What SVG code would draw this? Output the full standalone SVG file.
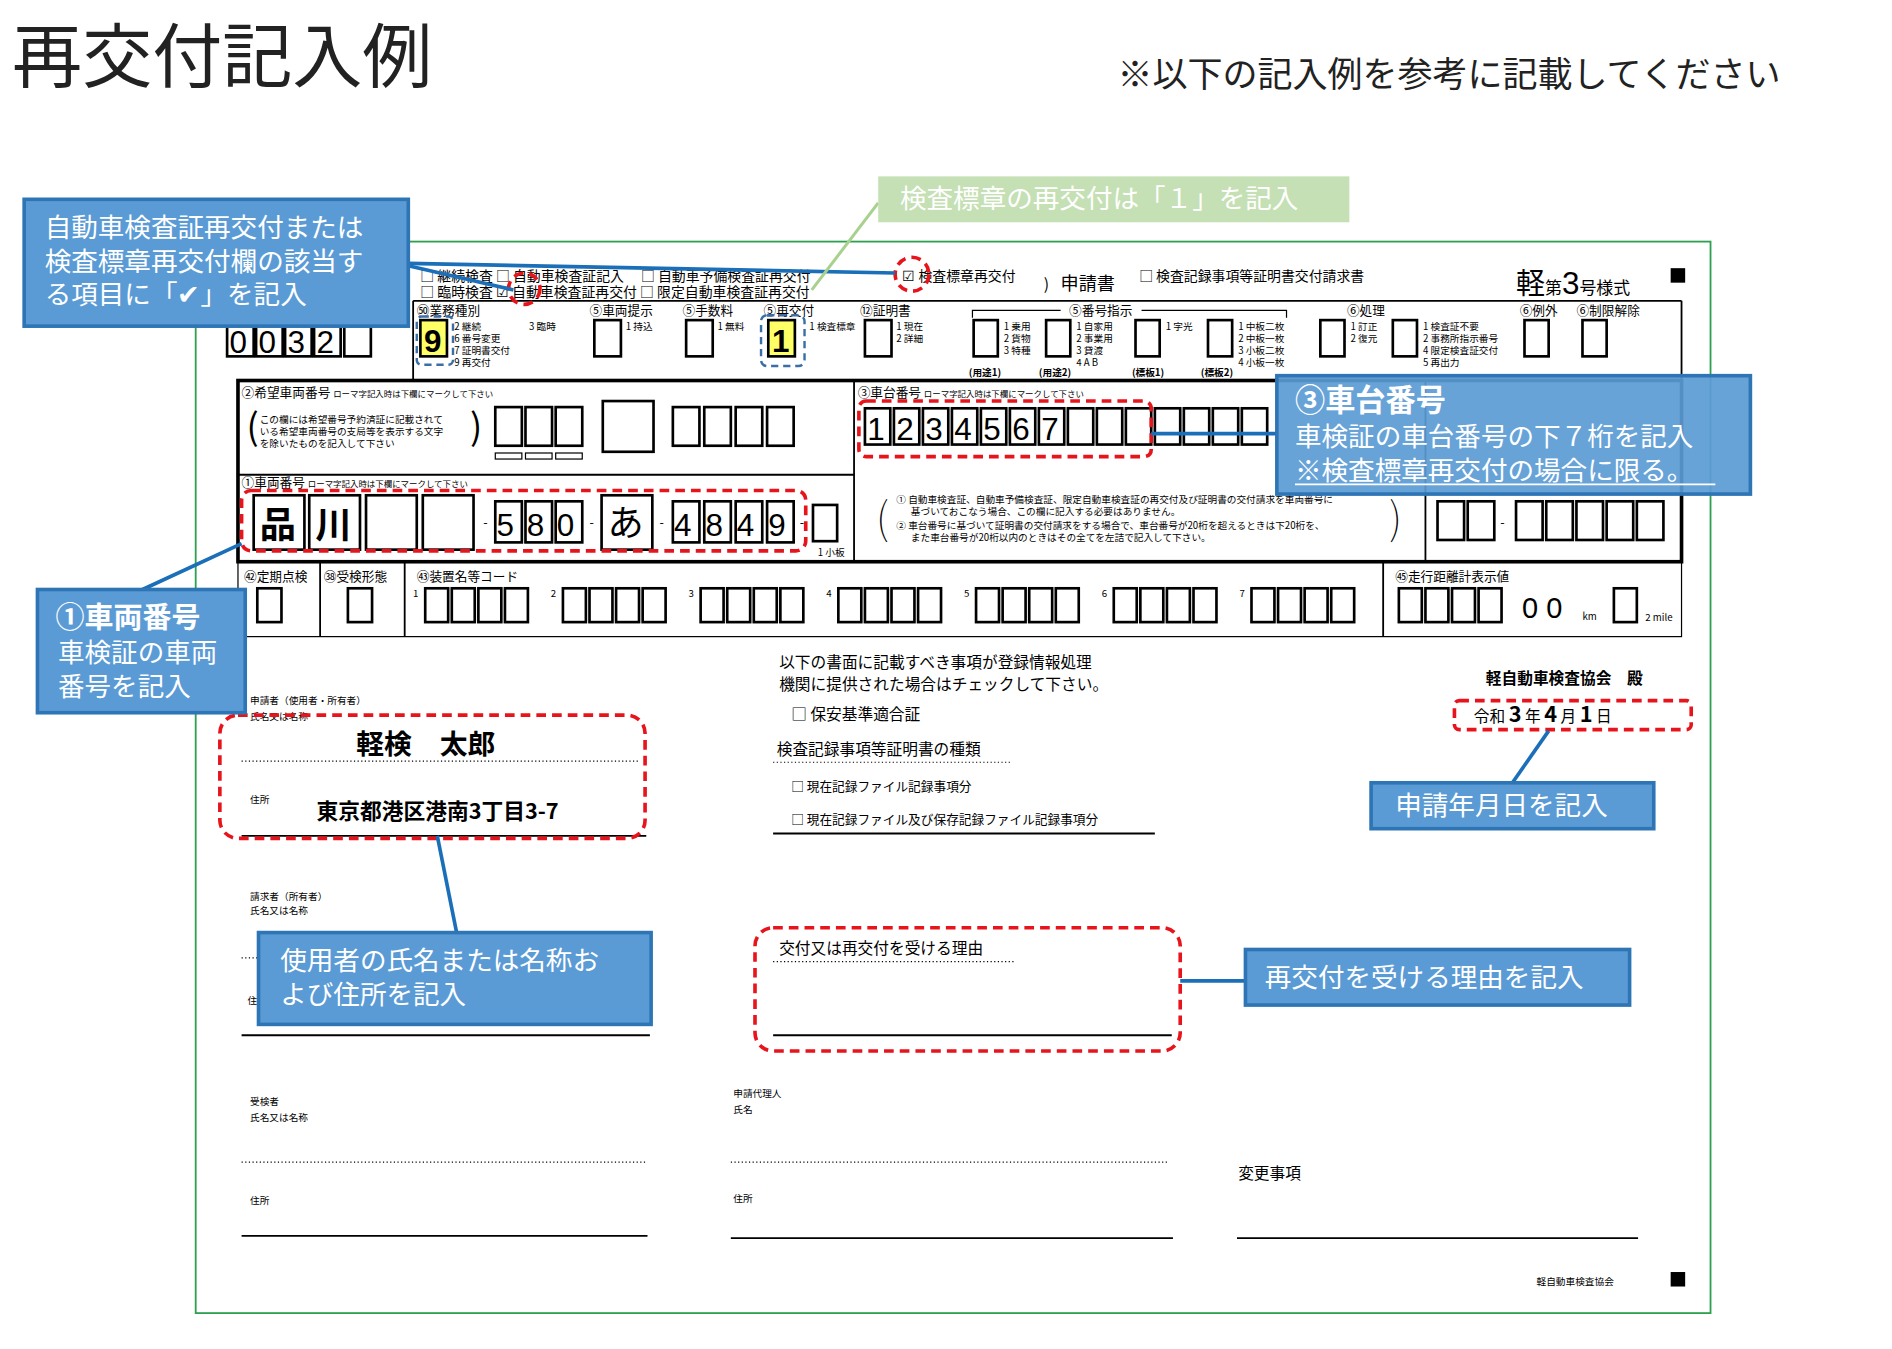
<svg xmlns="http://www.w3.org/2000/svg" width="1892" height="1349" viewBox="0 0 1892 1349">
<style>
text{font-family:"Noto Sans CJK JP","Noto Sans",sans-serif;fill:#000}
.s{font-size:8px}.m{font-size:10.5px}.l{font-size:13px}.t{font-size:11.5px}
.bx{fill:#fff;stroke:#000;stroke-width:2.2}
.sb{fill:none;stroke:#000;stroke-width:1}
.call{fill:#5b9bd5;stroke:#2e75b6;stroke-width:3}
.ct{fill:#fff;font-size:22px}
.red{fill:none;stroke:#e8141c;stroke-width:3;stroke-dasharray:8 5}
.bd{fill:none;stroke:#3a6ea5;stroke-width:2;stroke-dasharray:6 4}
.con{stroke:#1a6fb8;stroke-width:3;fill:none}
.dot{stroke:#000;stroke-width:1;stroke-dasharray:1 2}
.ln{stroke:#000;stroke-width:1.5}
.dg{font-size:26px;font-family:"Liberation Sans",sans-serif}
</style>
<rect width="1892" height="1349" fill="#fff"/>
<g transform="scale(1.208)">
<g id="title">
<text x="10" y="68" style="font-size:58px;fill:#222">再交付記入例</text>
<text x="925" y="72" style="font-size:29px;fill:#222">※以下の記入例を参考に記載してください</text>
</g>
<rect id="frame" x="162" y="200" width="1254" height="887" fill="none" stroke="#2ea04f" stroke-width="1.5"/>
<g id="form">
<text x="348" y="233" class="t">□ 継続検査 □ 自動車検査証記入　 □ 自動車予備検査証再交付</text>
<text x="348" y="246" class="t">□ 臨時検査 ☑ 自動車検査証再交付 □ 限定自動車検査証再交付</text>
<text x="747" y="233" class="t">☑ 検査標章再交付</text>
<text x="864" y="240" class="l">)</text>
<text x="878" y="240" style="font-size:15px">申請書</text>
<text x="943" y="233" class="t">□ 検査記録事項等証明書交付請求書</text>
<text x="1255" y="243" style="font-size:24px">軽<tspan style="font-size:14px">第</tspan><tspan style="font-size:26px" font-family="Liberation Sans">3</tspan><tspan style="font-size:14px">号様式</tspan></text>
<rect x="1383" y="222" width="12" height="12"/>
<rect x="1383" y="1053" width="12" height="12"/>
<line x1="342" y1="249" x2="1392" y2="249" class="ln" stroke-width="1"/>
<line x1="342" y1="249" x2="342" y2="315" class="ln" stroke-width="1"/>
<line x1="1392" y1="249" x2="1392" y2="315" class="ln" stroke-width="1"/>
<g>
<rect x="188" y="268" width="22" height="27" class="bx"/><rect x="212" y="268" width="22" height="27" class="bx"/><rect x="236" y="268" width="22" height="27" class="bx"/><rect x="260" y="268" width="22" height="27" class="bx"/><rect x="285" y="268" width="22" height="27" class="bx"/>
<text x="190" y="292" class="dg">0</text><text x="214" y="292" class="dg">0</text><text x="238" y="292" class="dg">3</text><text x="262" y="292" class="dg">2</text>
</g>
<text x="345" y="261" class="m">㊿業務種別</text><text x="488" y="261" class="m">⑤車両提示</text><text x="565" y="261" class="m">⑤手数料</text><text x="632" y="261" class="m">⑤再交付</text><text x="712" y="261" class="m">⑫証明書</text><text x="885" y="261" class="m">⑤番号指示</text><text x="1115" y="261" class="m">⑥処理</text><text x="1258" y="261" class="m">⑥例外</text><text x="1305" y="261" class="m">⑥制限解除</text>
<rect x="348" y="265" width="22" height="30" fill="#ffff66" stroke="#000" stroke-width="2.2"/><text x="351" y="291" class="dg" style="font-weight:bold">9</text>
<text x="376" y="273" class="s">2 継続</text><text x="376" y="283" class="s">6 番号変更</text><text x="376" y="293" class="s">7 証明書交付</text><text x="376" y="303" class="s">9 再交付</text><text x="438" y="273" class="s">3 臨時</text>
<rect x="492" y="265" width="22" height="30" class="bx"/><text x="518" y="273" class="s">1 持込</text>
<rect x="568" y="265" width="22" height="30" class="bx"/><text x="594" y="273" class="s">1 無料</text>
<rect x="636" y="265" width="22" height="30" fill="#ffff66" stroke="#000" stroke-width="2.2"/><text x="639" y="291" class="dg" style="font-weight:bold">1</text><text x="670" y="273" class="s">1 検査標章</text>
<rect x="716" y="265" width="22" height="30" class="bx"/><text x="742" y="273" class="s">1 現在</text><text x="742" y="283" class="s">2 詳細</text>
<polyline points="805,263 805,257 878,257" class="sb"/><polyline points="945,257 1065,257 1065,263" class="sb"/>
<rect x="806" y="265" width="20" height="30" class="bx"/><text x="831" y="273" class="s">1 乗用</text><text x="831" y="283" class="s">2 貨物</text><text x="831" y="293" class="s">3 特種</text>
<rect x="866" y="265" width="20" height="30" class="bx"/><text x="891" y="273" class="s">1 自家用</text><text x="891" y="283" class="s">2 事業用</text><text x="891" y="293" class="s">3 貸渡</text><text x="891" y="303" class="s">4 A B</text>
<rect x="940" y="265" width="20" height="30" class="bx"/><text x="965" y="273" class="s">1 字光</text>
<rect x="1000" y="265" width="20" height="30" class="bx"/><text x="1025" y="273" class="s">1 中板二枚</text><text x="1025" y="283" class="s">2 中板一枚</text><text x="1025" y="293" class="s">3 小板二枚</text><text x="1025" y="303" class="s">4 小板一枚</text>
<text x="802" y="311" class="s" font-weight="bold">(用途1)</text><text x="860" y="311" class="s" font-weight="bold">(用途2)</text><text x="937" y="311" class="s" font-weight="bold">(標板1)</text><text x="994" y="311" class="s" font-weight="bold">(標板2)</text>
<rect x="1093" y="265" width="20" height="30" class="bx"/><text x="1118" y="273" class="s">1 訂正</text><text x="1118" y="283" class="s">2 復元</text>
<rect x="1153" y="265" width="20" height="30" class="bx"/><text x="1178" y="273" class="s">1 検査証不要</text><text x="1178" y="283" class="s">2 事務所指示番号</text><text x="1178" y="293" class="s">4 限定検査証交付</text><text x="1178" y="303" class="s">5 再出力</text>
<rect x="1262" y="265" width="20" height="30" class="bx"/><rect x="1310" y="265" width="20" height="30" class="bx"/>
<rect x="197" y="315" width="1195" height="150" fill="none" stroke="#000" stroke-width="3"/>
<line x1="197" y1="393" x2="707" y2="393" class="ln" stroke-width="1"/>
<line x1="707" y1="315" x2="707" y2="465" class="ln" stroke-width="1"/>
<line x1="1180" y1="315" x2="1180" y2="465" class="ln" stroke-width="1"/>
<text x="200" y="329" class="m">②希望車両番号 <tspan style="font-size:7px">ローマ字記入時は下欄にマークして下さい</tspan></text>
<text x="204" y="364" style="font-size:30px">(</text><text x="389" y="364" style="font-size:30px">)</text>
<text x="215" y="350" class="s">この欄には希望番号予約済証に記載されて</text><text x="215" y="360" class="s">いる希望車両番号の支局等を表示する文字</text><text x="215" y="370" class="s">を除いたものを記入して下さい</text>
<rect x="410" y="337" width="22" height="32" class="bx"/><rect x="435" y="337" width="22" height="32" class="bx"/><rect x="460" y="337" width="22" height="32" class="bx"/><rect x="499" y="332" width="42" height="42" class="bx"/><rect x="557" y="337" width="22" height="32" class="bx"/><rect x="583" y="337" width="22" height="32" class="bx"/><rect x="609" y="337" width="22" height="32" class="bx"/><rect x="635" y="337" width="22" height="32" class="bx"/>
<rect x="410" y="375" width="22" height="5" class="sb"/><rect x="435" y="375" width="22" height="5" class="sb"/><rect x="460" y="375" width="22" height="5" class="sb"/>
<text x="200" y="403" class="m">①車両番号 <tspan style="font-size:7px">ローマ字記入時は下欄にマークして下さい</tspan></text>
<rect x="210" y="410" width="42" height="45" class="bx"/><rect x="256" y="410" width="42" height="45" class="bx"/><rect x="303" y="410" width="42" height="45" class="bx"/><rect x="350" y="410" width="42" height="45" class="bx"/>
<text x="215" y="445" style="font-size:30px;font-weight:bold">品</text><text x="261" y="445" style="font-size:30px;font-weight:bold">川</text>
<rect x="410" y="415" width="22" height="34" class="bx"/><rect x="435" y="415" width="22" height="34" class="bx"/><rect x="460" y="415" width="22" height="34" class="bx"/><rect x="498" y="410" width="42" height="45" class="bx"/>
<rect x="557" y="415" width="22" height="34" class="bx"/><rect x="583" y="415" width="22" height="34" class="bx"/><rect x="609" y="415" width="22" height="34" class="bx"/><rect x="635" y="415" width="22" height="34" class="bx"/><rect x="673" y="418" width="20" height="30" class="bx"/>
<text x="411" y="444" class="dg">5</text><text x="436" y="444" class="dg">8</text><text x="461" y="444" class="dg">0</text><text x="503" y="444" style="font-size:30px">あ</text><text x="558" y="444" class="dg">4</text><text x="584" y="444" class="dg">8</text><text x="610" y="444" class="dg">4</text><text x="636" y="444" class="dg">9</text>
<text x="677" y="460" class="s">1 小板</text>
<text x="400" y="436" class="m">-</text><text x="488" y="436" class="m">-</text><text x="546" y="436" class="m">-</text><text x="662" y="436" class="m">-</text>
<text x="710" y="329" class="m">③車台番号 <tspan style="font-size:7px">ローマ字記入時は下欄にマークして下さい</tspan></text>
<g>
<rect x="716" y="338" width="21" height="30" class="bx"/><rect x="740" y="338" width="21" height="30" class="bx"/><rect x="764" y="338" width="21" height="30" class="bx"/><rect x="788" y="338" width="21" height="30" class="bx"/><rect x="812" y="338" width="21" height="30" class="bx"/><rect x="836" y="338" width="21" height="30" class="bx"/><rect x="860" y="338" width="21" height="30" class="bx"/><rect x="884" y="338" width="21" height="30" class="bx"/><rect x="908" y="338" width="21" height="30" class="bx"/><rect x="932" y="338" width="21" height="30" class="bx"/><rect x="956" y="338" width="21" height="30" class="bx"/><rect x="980" y="338" width="21" height="30" class="bx"/><rect x="1004" y="338" width="21" height="30" class="bx"/><rect x="1028" y="338" width="21" height="30" class="bx"/>
<text x="718" y="364" class="dg">1</text><text x="742" y="364" class="dg">2</text><text x="766" y="364" class="dg">3</text><text x="790" y="364" class="dg">4</text><text x="814" y="364" class="dg">5</text><text x="838" y="364" class="dg">6</text><text x="862" y="364" class="dg">7</text>
</g>
<text x="725" y="442" style="font-size:36px;font-weight:100">(</text><text x="1150" y="442" style="font-size:36px;font-weight:100">)</text>
<text x="742" y="416" class="s">① 自動車検査証、自動車予備検査証、限定自動車検査証の再交付及び証明書の交付請求を車両番号に</text>
<text x="754" y="426" class="s">基づいておこなう場合、この欄に記入する必要はありません。</text>
<text x="742" y="438" class="s">② 車台番号に基づいて証明書の交付請求をする場合で、車台番号が20桁を超えるときは下20桁を、</text>
<text x="754" y="448" class="s">また車台番号が20桁以内のときはその全てを左詰で記入して下さい。</text>
<g>
<rect x="1190" y="415" width="22" height="32" class="bx"/><rect x="1215" y="415" width="22" height="32" class="bx"/><rect x="1255" y="415" width="22" height="32" class="bx"/><rect x="1280" y="415" width="22" height="32" class="bx"/><rect x="1305" y="415" width="22" height="32" class="bx"/><rect x="1330" y="415" width="22" height="32" class="bx"/><rect x="1355" y="415" width="22" height="32" class="bx"/>
<text x="1242" y="436" class="m">-</text>
</g>
<rect x="197" y="465" width="1195" height="62" fill="none" stroke="#000" stroke-width="1"/>
<line x1="265" y1="465" x2="265" y2="527" class="ln" stroke-width="1"/><line x1="335" y1="465" x2="335" y2="527" class="ln" stroke-width="1"/><line x1="1145" y1="465" x2="1145" y2="527" class="ln" stroke-width="1"/>
<text x="202" y="481" class="m">㊷定期点検</text><text x="268" y="481" class="m">㊳受検形態</text><text x="345" y="481" class="m">㊸装置名等コード</text><text x="1155" y="481" class="m">㊺走行距離計表示値</text>
<rect x="213" y="487" width="20" height="28" class="bx"/><rect x="288" y="487" width="20" height="28" class="bx"/>
<g id="codes">
<rect x="352" y="487" width="19" height="28" class="bx"/><rect x="374" y="487" width="19" height="28" class="bx"/><rect x="396" y="487" width="19" height="28" class="bx"/><rect x="418" y="487" width="19" height="28" class="bx"/>
<rect x="466" y="487" width="19" height="28" class="bx"/><rect x="488" y="487" width="19" height="28" class="bx"/><rect x="510" y="487" width="19" height="28" class="bx"/><rect x="532" y="487" width="19" height="28" class="bx"/>
<rect x="580" y="487" width="19" height="28" class="bx"/><rect x="602" y="487" width="19" height="28" class="bx"/><rect x="624" y="487" width="19" height="28" class="bx"/><rect x="646" y="487" width="19" height="28" class="bx"/>
<rect x="694" y="487" width="19" height="28" class="bx"/><rect x="716" y="487" width="19" height="28" class="bx"/><rect x="738" y="487" width="19" height="28" class="bx"/><rect x="760" y="487" width="19" height="28" class="bx"/>
<rect x="808" y="487" width="19" height="28" class="bx"/><rect x="830" y="487" width="19" height="28" class="bx"/><rect x="852" y="487" width="19" height="28" class="bx"/><rect x="874" y="487" width="19" height="28" class="bx"/>
<rect x="922" y="487" width="19" height="28" class="bx"/><rect x="944" y="487" width="19" height="28" class="bx"/><rect x="966" y="487" width="19" height="28" class="bx"/><rect x="988" y="487" width="19" height="28" class="bx"/>
<rect x="1036" y="487" width="19" height="28" class="bx"/><rect x="1058" y="487" width="19" height="28" class="bx"/><rect x="1080" y="487" width="19" height="28" class="bx"/><rect x="1102" y="487" width="19" height="28" class="bx"/>
<text x="342" y="494" class="s">1</text><text x="456" y="494" class="s">2</text><text x="570" y="494" class="s">3</text><text x="684" y="494" class="s">4</text><text x="798" y="494" class="s">5</text><text x="912" y="494" class="s">6</text><text x="1026" y="494" class="s">7</text>
</g>
<rect x="1158" y="487" width="19" height="28" class="bx"/><rect x="1180" y="487" width="19" height="28" class="bx"/><rect x="1202" y="487" width="19" height="28" class="bx"/><rect x="1224" y="487" width="19" height="28" class="bx"/>
<text x="1260" y="512" style="font-size:24px;font-family:'Liberation Sans',sans-serif">0 0</text><text x="1310" y="513" class="s">km</text><rect x="1336" y="487" width="19" height="28" class="bx"/><text x="1362" y="514" class="s">2 mile</text>
<text x="645" y="553" class="l">以下の書面に記載すべき事項が登録情報処理</text>
<text x="645" y="571" class="l">機関に提供された場合はチェックして下さい。</text>
<text x="655" y="596" class="l">□ 保安基準適合証</text>
<text x="643" y="625" class="l">検査記録事項等証明書の種類</text><line x1="640" y1="631" x2="838" y2="631" class="dot"/>
<text x="655" y="655" class="m">□ 現在記録ファイル記録事項分</text>
<text x="655" y="682" class="m">□ 現在記録ファイル及び保存記録ファイル記録事項分</text>
<line x1="640" y1="690" x2="956" y2="690" class="ln"/>
<text x="1230" y="566" class="l" font-weight="bold">軽自動車検査協会　殿</text>
<text x="1220" y="598" class="l">令和 <tspan font-weight="bold" style="font-size:18px">3</tspan> 年 <tspan font-weight="bold" style="font-size:18px">4</tspan> 月 <tspan font-weight="bold" style="font-size:18px">1</tspan> 日</text>
<text x="207" y="583" class="s">申請者（使用者・所有者）</text><text x="207" y="596" class="s">氏名又は名称</text>
<text x="295" y="624" style="font-size:23px;font-weight:bold">軽検　太郎</text>
<line x1="200" y1="630" x2="530" y2="630" class="dot"/>
<text x="207" y="665" class="s">住所</text>
<text x="262" y="678" style="font-size:18px;font-weight:bold">東京都港区港南3丁目3-7</text>
<line x1="200" y1="692" x2="535" y2="692" class="ln"/>
<text x="207" y="745" class="s">請求者（所有者）</text><text x="207" y="757" class="s">氏名又は名称</text>
<line x1="200" y1="793" x2="214" y2="793" class="dot"/>
<text x="205" y="831" class="s">住</text>
<line x1="200" y1="857" x2="538" y2="857" class="ln"/>
<text x="645" y="790" class="l">交付又は再交付を受ける理由</text><line x1="640" y1="796" x2="840" y2="796" class="dot"/>
<line x1="640" y1="857" x2="970" y2="857" class="ln"/>
<text x="207" y="915" class="s">受検者</text><text x="207" y="928" class="s">氏名又は名称</text>
<line x1="200" y1="962" x2="536" y2="962" class="dot"/>
<text x="207" y="997" class="s">住所</text><line x1="200" y1="1023" x2="536" y2="1023" class="ln"/>
<text x="607" y="908" class="s">申請代理人</text><text x="607" y="921" class="s">氏名</text>
<line x1="605" y1="962" x2="968" y2="962" class="dot"/>
<text x="607" y="995" class="s">住所</text><line x1="605" y1="1025" x2="971" y2="1025" class="ln"/>
<text x="1025" y="976" class="l">変更事項</text><line x1="1024" y1="1025" x2="1356" y2="1025" class="ln"/>
<text x="1272" y="1064" class="s">軽自動車検査協会</text>
</g>
<g id="marks">
<circle cx="434" cy="239" r="13" class="red"/>
<circle cx="755" cy="227" r="14" class="red"/>
<rect x="200" y="406" width="467" height="50" rx="8" class="red"/>
<rect x="711" y="332" width="242" height="46" rx="6" class="red"/>
<rect x="182" y="592" width="352" height="102" rx="15" class="red"/>
<rect x="1204" y="580" width="196" height="24" rx="4" class="red"/>
<rect x="625" y="768" width="352" height="102" rx="15" class="red"/>
<rect x="345" y="262" width="30" height="40" rx="4" class="bd"/>
<rect x="630" y="261" width="36" height="42" rx="5" class="bd"/>
</g>
<g id="connectors">
<line x1="338" y1="218" x2="741" y2="226" class="con"/>
<line x1="338" y1="220" x2="425" y2="240" class="con"/>
<line x1="727" y1="168" x2="672" y2="240" stroke="#a9d18e" stroke-width="2.5"/>
<line x1="953" y1="359" x2="1057" y2="359" class="con"/>
<line x1="118" y1="488" x2="200" y2="450" class="con"/>
<line x1="378" y1="772" x2="362" y2="692" class="con"/>
<line x1="1252" y1="648" x2="1282" y2="605" class="con"/>
<line x1="977" y1="812" x2="1031" y2="812" class="con"/>
</g>
<g id="callout-check"><rect x="20" y="165" width="318" height="105" class="call"/>
<text x="37" y="196" class="ct">自動車検査証再交付または</text><text x="37" y="224" class="ct">検査標章再交付欄の該当す</text><text x="37" y="252" class="ct">る項目に「✔」を記入</text></g>
<g id="callout-green"><rect x="727" y="146" width="390" height="38" fill="#c5e0b4"/>
<text x="745" y="172" class="ct">検査標章の再交付は「１」を記入</text></g>
<g id="callout-chassis"><rect x="1057" y="311" width="392" height="98" class="call" fill-opacity="0.92"/>
<text x="1072" y="340" class="ct" style="font-size:25px;font-weight:bold">③車台番号</text>
<text x="1072" y="369" class="ct">車検証の車台番号の下７桁を記入</text>
<text x="1072" y="397" class="ct">※検査標章再交付の場合に限る。</text>
<line x1="1072" y1="401" x2="1420" y2="401" stroke="#fff" stroke-width="1.5"/></g>
<g id="callout-plate"><rect x="31" y="488" width="172" height="102" class="call"/>
<text x="46" y="520" class="ct" style="font-size:24px;font-weight:bold">①車両番号</text><text x="48" y="548" class="ct">車検証の車両</text><text x="48" y="576" class="ct">番号を記入</text></g>
<g id="callout-date"><rect x="1135" y="648" width="234" height="38" class="call"/><text x="1155" y="675" class="ct">申請年月日を記入</text></g>
<g id="callout-name"><rect x="214" y="772" width="325" height="76" class="call"/><text x="232" y="803" class="ct">使用者の氏名または名称お</text><text x="232" y="831" class="ct">よび住所を記入</text></g>
<g id="callout-reason"><rect x="1031" y="786" width="318" height="46" class="call"/><text x="1047" y="817" class="ct">再交付を受ける理由を記入</text></g>
</g>
</svg>
